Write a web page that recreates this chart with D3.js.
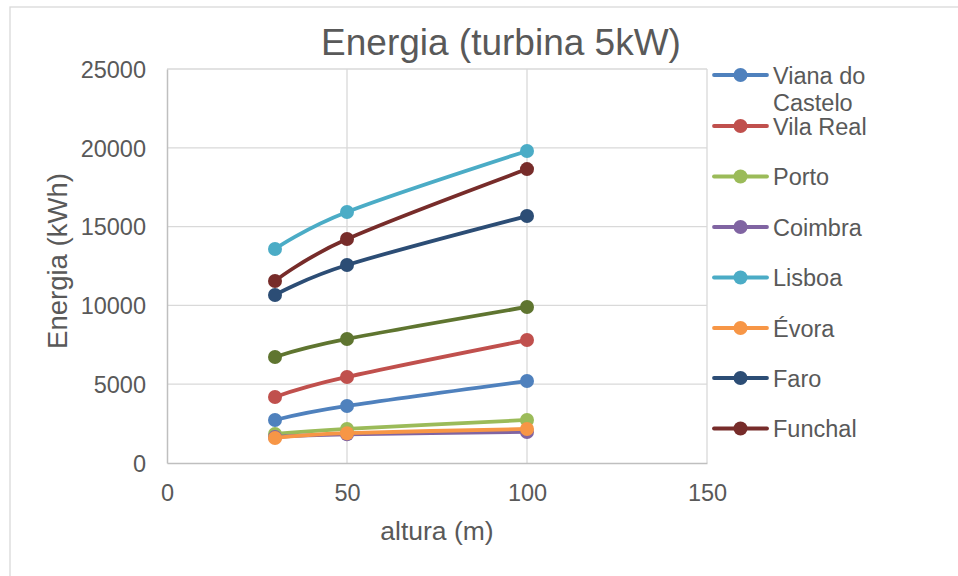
<!DOCTYPE html>
<html>
<head>
<meta charset="utf-8">
<script src="https://cdn.jsdelivr.net/npm/d3@7"></script>
<style>
  html, body { margin: 0; padding: 0; background: #fff; }
  svg { display: block; font-family: "Liberation Sans", Arial, sans-serif; }
</style>
</head>
<body>
<svg id="chart" width="958" height="576"></svg>
<script>
// Hub heights (m)
const heights = [30, 50, 100];

// Annual energy per site (kWh), 5 kW turbine
const vianaDoCastelo = [2730, 3620, 5200];
const vilaReal       = [4190, 5460, 7800];
const porto          = [1840, 2160, 2730];
const coimbra        = [1650, 1820, 1970];
const lisboa         = [13580, 15930, 19800];
const evora          = [1590, 1890, 2160];
const faro           = [10660, 12560, 15670];
const funchal        = [11550, 14210, 18650];
const extraSeries    = [6730, 7870, 9900];

const seriesNames  = ["Viana do Castelo", "Vila Real", "Porto", "Coimbra", "Lisboa", "Évora", "Faro", "Funchal", ""];
const seriesValues = [vianaDoCastelo, vilaReal, porto, coimbra, lisboa, evora, faro, funchal, extraSeries];
const seriesColors = ["#4F81BD", "#C0504D", "#9BBB59", "#8064A2", "#4BACC6", "#F79646", "#2C4D75", "#772C2A", "#5F7530"];

const xTicks = [0, 50, 100, 150];
const yTicks = [0, 5000, 10000, 15000, 20000, 25000];

const svg = d3.select("#chart");
const textColor = "#595959";

// outer chart frame
svg.append("rect")
  .attr("x", 10).attr("y", 7)
  .attr("width", 1000).attr("height", 700)
  .attr("fill", "none").attr("stroke", "#d9d9d9").attr("stroke-width", 1.3);

const plot = { left: 167, right: 707, top: 69, bottom: 463 };

const x = d3.scaleLinear().domain([0, 150]).range([plot.left, plot.right]);
const y = d3.scaleLinear().domain([0, 25000]).range([plot.bottom, plot.top]);

// gridlines
const grid = svg.append("g");
grid.selectAll("line.h").data(yTicks.filter(d => d > 0)).join("line")
  .attr("x1", plot.left).attr("x2", plot.right)
  .attr("y1", d => y(d)).attr("y2", d => y(d))
  .attr("stroke", "#d9d9d9").attr("stroke-width", 1.3);
grid.selectAll("line.v").data(xTicks.filter(d => d > 0)).join("line")
  .attr("y1", plot.top).attr("y2", plot.bottom)
  .attr("x1", d => x(d)).attr("x2", d => x(d))
  .attr("stroke", "#d9d9d9").attr("stroke-width", 1.3);

// axes
const yAxis = d3.axisLeft(y).tickValues(yTicks).tickSize(0).tickPadding(21).tickFormat(d3.format("d"));
const xAxis = d3.axisBottom(x).tickValues(xTicks).tickSize(0).tickPadding(21).tickFormat(d3.format("d"));

const gy = svg.append("g").attr("transform", `translate(${plot.left},0)`).call(yAxis);
const gx = svg.append("g").attr("transform", `translate(0,${plot.bottom})`).call(xAxis);
[gx, gy].forEach(g => {
  g.select(".domain").attr("stroke", "#bfbfbf").attr("stroke-width", 1.5);
  g.selectAll("text").attr("fill", textColor).attr("font-size", 23.5)
    .attr("font-family", "Liberation Sans, Arial, sans-serif");
});
gy.selectAll("text").attr("dy", "0.35em");
gx.selectAll("text").attr("dy", "0.72em");

// series lines
const line = d3.line()
  .x((d, i) => x(heights[i]))
  .y(d => y(d))
  .curve(d3.curveCardinal.tension(0));

const series = svg.append("g").selectAll("g").data(seriesValues).join("g");
series.append("path")
  .attr("d", d => line(d))
  .attr("fill", "none")
  .attr("stroke", (d, i) => seriesColors[i])
  .attr("stroke-width", 3.8)
  .attr("stroke-linejoin", "round")
  .attr("stroke-linecap", "round");
series.selectAll("circle").data((d, i) => d.map((v, j) => ({ v, j, c: seriesColors[i] }))).join("circle")
  .attr("cx", d => x(heights[d.j]))
  .attr("cy", d => y(d.v))
  .attr("r", 7)
  .attr("fill", d => d.c);

// title
svg.append("text")
  .attr("x", 501).attr("y", 55)
  .attr("text-anchor", "middle")
  .attr("font-size", 37)
  .attr("fill", textColor)
  .text("Energia (turbina 5kW)");

// axis titles
svg.append("text")
  .attr("x", (plot.left + plot.right) / 2).attr("y", 540)
  .attr("text-anchor", "middle")
  .attr("font-size", 26.5)
  .attr("fill", textColor)
  .text("altura (m)");

svg.append("text")
  .attr("transform", "translate(66.5,261) rotate(-90)")
  .attr("text-anchor", "middle")
  .attr("font-size", 27.5)
  .attr("fill", textColor)
  .text("Energia (kWh)");

// legend (the unnamed series has no entry)
const legendRows = [75, 126, 176.5, 227, 277.5, 328, 378, 428.5];
const legend = svg.append("g").selectAll("g")
  .data(seriesNames.slice(0, 8))
  .join("g")
  .attr("transform", (d, i) => `translate(0,${legendRows[i]})`);
legend.append("line")
  .attr("x1", 714).attr("x2", 767)
  .attr("stroke", (d, i) => seriesColors[i])
  .attr("stroke-width", 3.8)
  .attr("stroke-linecap", "round");
legend.append("circle")
  .attr("cx", 740.5).attr("r", 7)
  .attr("fill", (d, i) => seriesColors[i]);
legend.append("text")
  .attr("x", 773).attr("y", 8.5)
  .attr("font-size", 23.5)
  .attr("fill", textColor)
  .each(function (d) {
    const parts = d === "Viana do Castelo" ? ["Viana do", "Castelo"] : [d];
    d3.select(this).selectAll("tspan").data(parts).join("tspan")
      .attr("x", 773)
      .attr("dy", (p, k) => k === 0 ? 0 : 27)
      .text(p => p);
  });
</script>
</body>
</html>
